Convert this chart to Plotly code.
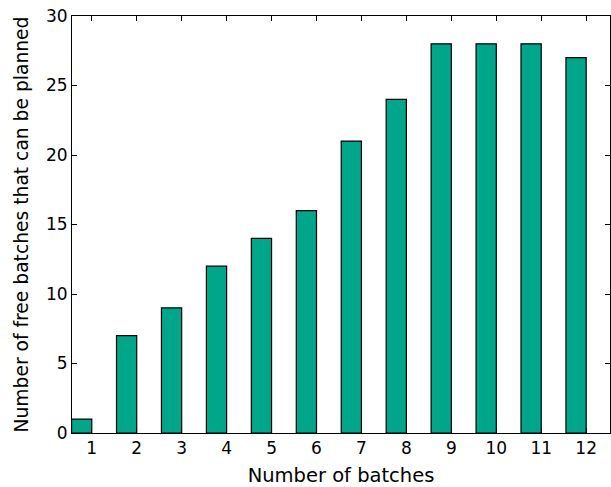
import plotly.graph_objects as go

batches = [1, 2, 3, 4, 5, 6, 7, 8, 9, 10, 11, 12]
free_batches = [1, 7, 9, 12, 14, 16, 21, 24, 28, 28, 28, 27]
y_ticks = [0, 5, 10, 15, 20, 25, 30]

fig = go.Figure()
fig.add_trace(go.Bar(
    x=batches, y=free_batches,
    width=0.45, offset=-0.45,
    marker=dict(color="#00A68A", line=dict(color="black", width=1.2)),
))

tick_font = dict(family="DejaVu Sans", size=17, color="black")
axis_common = dict(
    showline=True, linecolor="black", linewidth=1, mirror="ticks",
    ticks="inside", ticklen=5, tickwidth=1, tickcolor="black",
    showgrid=False, zeroline=False, tickfont=tick_font,
)
fig.update_layout(
    width=611, height=487,
    margin=dict(l=72, r=1, t=16, b=54),
    plot_bgcolor="white", paper_bgcolor="white",
    showlegend=False,
    font=tick_font,
    xaxis=dict(range=[0.56, 12.53], tickmode="array", tickvals=batches,
               ticktext=[str(b) for b in batches],
               title=dict(text="Number of batches",
                          font=dict(family="DejaVu Sans", size=19.5, color="black"),
                          standoff=10),
               **axis_common),
    yaxis=dict(range=[0, 30], tickmode="array", tickvals=y_ticks,
               title=dict(text="Number of free batches that can be planned",
                          font=dict(family="DejaVu Sans", size=18.7, color="black"),
                          standoff=12),
               **axis_common),
)
fig.write_html("out.html")
